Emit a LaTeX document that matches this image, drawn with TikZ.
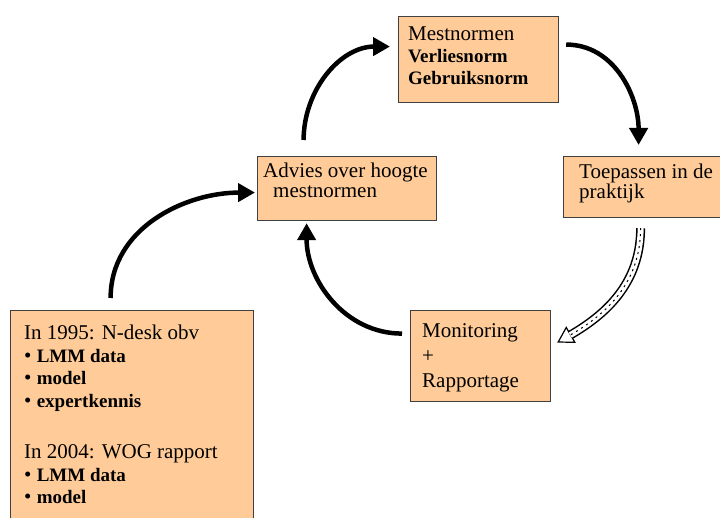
\documentclass[tikz,border=0pt]{standalone}
\usepackage{fontspec}
\setmainfont{Liberation Serif}[BoldFont={Liberation Serif Bold}]
\usetikzlibrary{arrows.meta}
\definecolor{boxfill}{HTML}{FFCC99}
\newcommand{\bnorm}[1]{{\fontsize{19}{22}\selectfont\bfseries #1}}

\begin{document}
\begin{tikzpicture}[x=1pt, y=1pt,
        box/.style={draw=black!75, line width=1.2pt, fill=boxfill, anchor=north west, inner sep=0pt},
        txt/.style={anchor=north west, inner sep=0pt, align=left, font=\fontsize{21}{22}\selectfont},
        flow/.style={line width=4.5pt, -{Triangle[length=17pt,width=18pt]}}]
        \useasboundingbox (0,0) rectangle (720,518);

        \node[box, minimum width=160pt, minimum height=86pt] (mest) at (398,502) {};
        \node[box, minimum width=159pt, minimum height=61pt] (toep) at (563,362) {};
        \node[box, minimum width=179pt, minimum height=64pt] (advies) at (257,362) {};
        \node[box, minimum width=140pt, minimum height=91pt] (monitor) at (410,208) {};
        \node[box, minimum width=243pt, minimum height=220pt] (basis) at (10,208) {};

        \node[txt] (mestT) at ([shift={(10pt,-11pt)}]mest.north west)
            {Mestnormen\\ \bnorm{Verliesnorm}\\ \bnorm{Gebruiksnorm}};
        \node[txt, font=\fontsize{21}{20}\selectfont] (toepT) at ([shift={(16pt,-8pt)}]toep.north west)
            {Toepassen in de\\ praktijk};
        \node[txt, font=\fontsize{21}{20}\selectfont] (adviesT) at ([shift={(6pt,-7pt)}]advies.north west)
            {Advies over hoogte\\ \hspace*{10pt}mestnormen};
        \node[txt, font=\fontsize{21}{25}\selectfont] (monitorT) at ([shift={(12pt,-13pt)}]monitor.north west)
            {Monitoring\\ +\\ Rapportage};
        \node[txt, font=\fontsize{21}{22.5}\selectfont] (basisT) at ([shift={(14pt,-15pt)}]basis.north west)
            {In 1995: N-desk obv\\ • \bnorm{LMM data}\\ • \bnorm{model}\\ • \bnorm{expertkennis}\\[29pt]
             In 2004: WOG rapport\\ • \bnorm{LMM data}\\ • \bnorm{model}};

        \draw[flow] ([shift={(-43.5pt,16pt)}]advies.north) to[out=90,in=180] ([shift={(-8pt,13pt)}]mest.west);
        \draw[flow] ([shift={(7pt,15pt)}]mest.east) to[out=0,in=90] ([shift={(-4.5pt,11pt)}]toep.north);
        \draw[flow] ([shift={(-8pt,22.5pt)}]monitor.west) to[out=180,in=-90] ([shift={(-40.5pt,-2pt)}]advies.south);
        \draw[flow] ([shift={(-21.5pt,12pt)}]basis.north) to[out=90,in=180] ([shift={(-2pt,-4pt)}]advies.west);

        % hollow striped arrow
        \coordinate (h1) at ([shift={(-2.5pt,-10pt)}]toep.south);
        \coordinate (h2) at ([shift={(6pt,13.5pt)}]monitor.east);
        \draw[line width=1.2pt, -{Triangle[open, fill=white, length=16pt, width=19pt]}] (h1) to[out=-90,in=30] (h2);
        \draw[line width=9pt, shorten >=15pt] (h1) to[out=-90,in=30] (h2);
        \draw[white, line width=6pt, shorten >=15pt] (h1) to[out=-90,in=30] (h2);
        \draw[line width=1pt, dash pattern=on 2pt off 4pt, shorten >=15pt] (h1) to[out=-90,in=30] (h2);
\end{tikzpicture}
\end{document}
